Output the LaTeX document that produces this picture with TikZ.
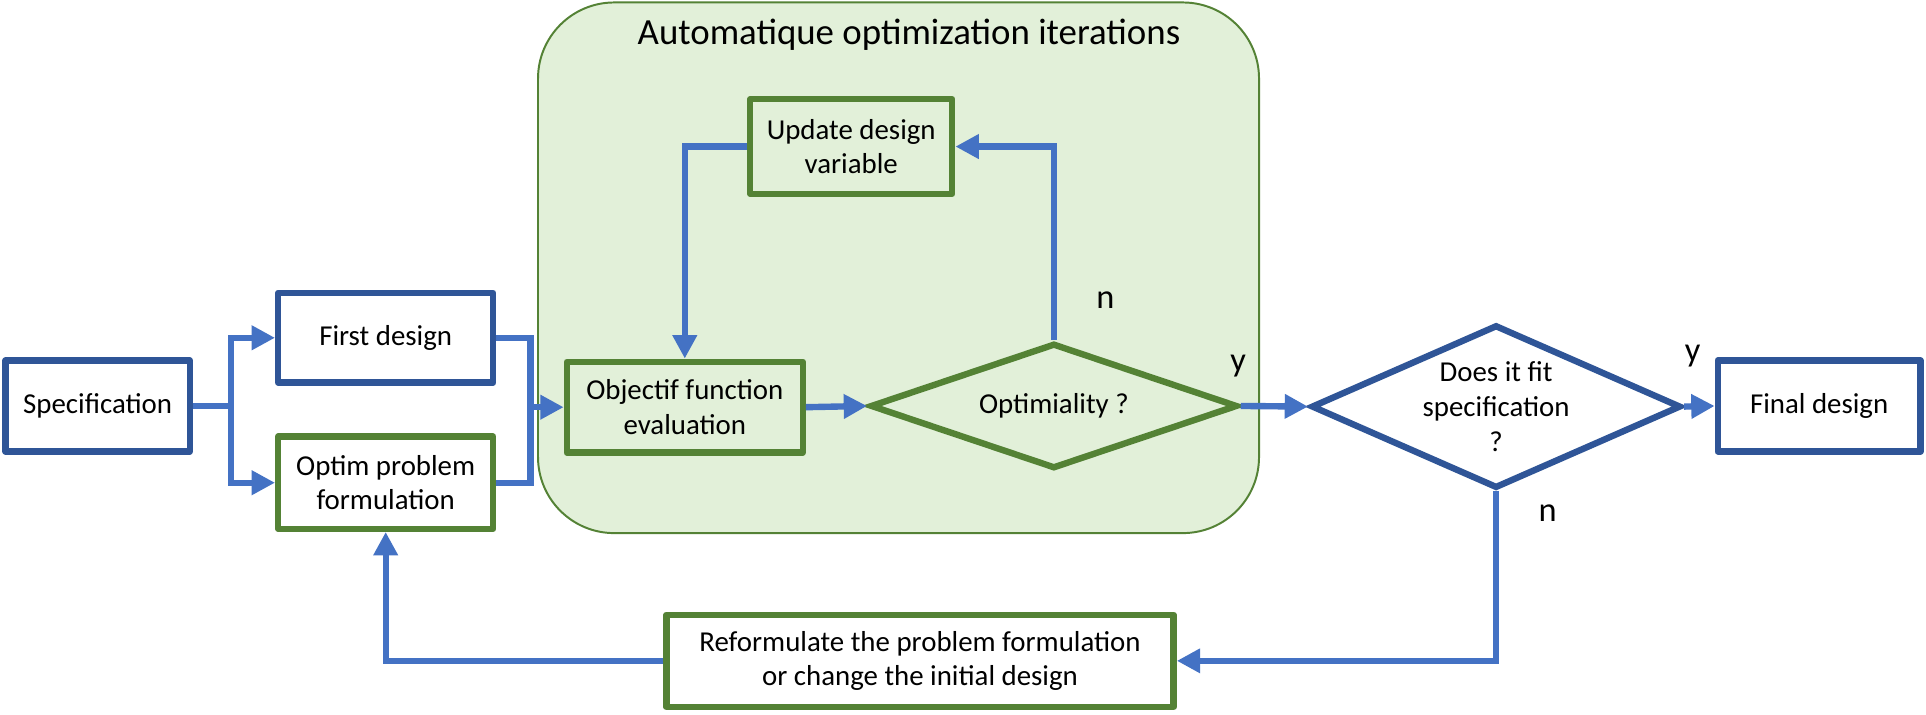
\documentclass[tikz,border=0pt]{standalone}
\usepackage{fontspec}
\setmainfont{Carlito}
\usetikzlibrary{arrows.meta,shapes.geometric}
\definecolor{dblue}{HTML}{2F5597}
\definecolor{dgreen}{HTML}{548235}
\definecolor{lblue}{HTML}{4472C4}
\definecolor{lgreen}{HTML}{E2F0D9}
\begin{document}
\begin{tikzpicture}[x=1pt,y=-1pt,
  box/.style={draw, line width=5.2pt, line join=round, rectangle, align=center,
    font=\fontsize{23.5}{28}\selectfont, inner sep=0pt},
  bluebox/.style={box, draw=dblue, fill=white},
  greenbox/.style={box, draw=dgreen, fill=white},
  innerbox/.style={box, draw=dgreen},
  dia/.style={draw, diamond, line width=5.2pt, align=center, inner sep=0pt,
    font=\fontsize{23.5}{28.5}\selectfont},
  line/.style={draw=lblue, line width=5.2pt},
  conn/.style={line, -{Triangle[length=19pt,width=19pt]}},
  lab/.style={font=\fontsize{28}{32}\selectfont, inner sep=0pt}
]
\useasboundingbox[fill=white] (0,0) rectangle (1568,581.3);

% container
\node[draw=dgreen, fill=lgreen, line width=1.6pt, rounded corners=62pt,
  minimum width=587pt, minimum height=432pt, inner sep=0pt] (cont) at (731.5,218) {};
\node[font=\fontsize{30}{36}\selectfont, inner sep=0pt] (title) at (740,28) {Automatique optimization iterations};

% boxes
\node[bluebox, minimum width=150pt, minimum height=74pt] (spec) at (79.5,330.5) {Specification};
\node[bluebox, minimum width=175pt, minimum height=73pt] (first) at (314,275) {First design};
\node[greenbox, minimum width=175pt, minimum height=75pt] (optim) at (314,393) {Optim problem\\formulation};
\node[innerbox, minimum width=192pt, minimum height=74pt] (obj) at (557.5,331.5) {Objectif function\\evaluation};
\node[innerbox, minimum width=164.5pt, minimum height=77pt] (update) at (693,119.3) {Update design\\variable};
\node[greenbox, minimum width=413pt, minimum height=75pt] (reform) at (749,538) {Reformulate the problem formulation\\or change the initial design};
\node[bluebox, minimum width=165pt, minimum height=74pt] (final) at (1481,330.5) {Final design};

% diamonds
\node[dia, draw=dgreen, aspect=2.91, minimum width=299pt, minimum height=102pt] (opt) at (858,330.5) {Optimiality ?};
\node[dia, draw=dblue, fill=white, aspect=2.26, minimum width=301pt, minimum height=133pt] (fit) at (1218,331) {Does it fit\\specification\\?};

% labels
\node[lab] (nopt) at (900,244) {n};
\node[lab] (yopt) at (1008,298) {y};
\node[lab] (yfit) at (1378,290) {y};
\node[lab] (nfit) at (1260,418) {n};

% connectors
\coordinate (split) at (188,330.5);
\coordinate (join) at (432,331.5);
\draw[line] (spec.east) -- (split);
\draw[conn] (split) |- (first.west);
\draw[conn] (split) |- (optim.west);
\draw[line] (first.east) -| (join);
\draw[line] (optim.east) -| (join);
\draw[conn] (join) -- (obj.west);
\draw[conn] (obj.east) -- (opt.west);
\draw[conn] (opt.north) |- (update.east);
\draw[conn] (update.west) -| (obj.north);
\draw[conn] (opt.east) -- (fit.west);
\draw[conn] (fit.east) -- (final.west);
\draw[conn] (fit.south) |- (reform.east);
\draw[conn] (reform.west) -| (optim.south);
\end{tikzpicture}
\end{document}
